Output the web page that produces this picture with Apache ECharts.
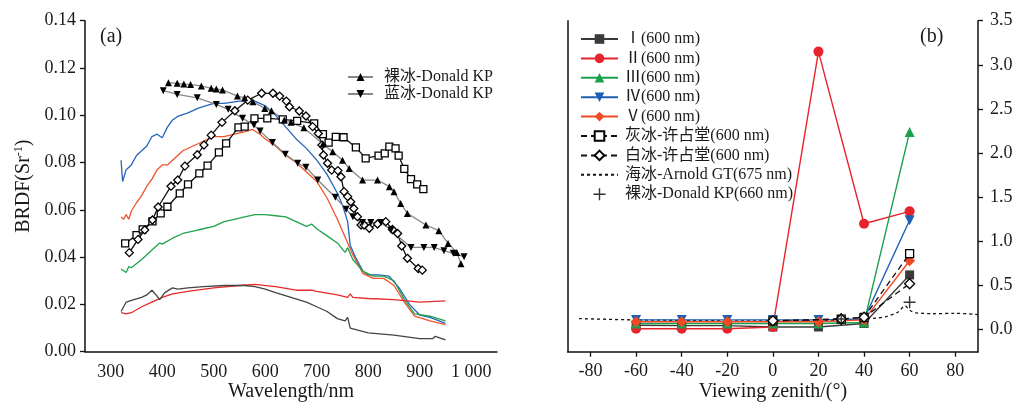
<!DOCTYPE html>
<html><head><meta charset="utf-8">
<script src="https://cdn.jsdelivr.net/npm/echarts@6/dist/echarts.min.js"></script>
<style>html,body{margin:0;padding:0;background:#fff}#c{width:1019px;height:405px}</style>
</head><body><div id="c"></div>
<script>
// ---------- Panel (a): BRDF spectra ----------
var wlTicks = [300, 400, 500, 600, 700, 800, 900, 1000];
var yTicksA = [0, 0.02, 0.04, 0.06, 0.08, 0.10, 0.12, 0.14];

var blueLine = [[320,0.081],[323,0.072],[330,0.077],[340,0.079],[350,0.083],[360,0.085],[370,0.087],[380,0.091],[390,0.092],[400,0.0905],[410,0.095],[420,0.098],[430,0.0995],[450,0.101],[470,0.103],[500,0.105],[520,0.105],[550,0.106],[580,0.106],[600,0.104],[620,0.100],[640,0.095],[660,0.090],[680,0.086],[700,0.081],[720,0.075],[740,0.067],[750,0.062],[760,0.055],[765,0.045],[775,0.040],[790,0.034],[800,0.0325],[820,0.0325],[840,0.032],[860,0.027],[880,0.020],[900,0.0155],[920,0.0145],[950,0.012]];
var orangeLine = [[320,0.057],[325,0.056],[330,0.058],[335,0.056],[340,0.0595],[350,0.063],[360,0.066],[370,0.070],[380,0.073],[390,0.077],[400,0.079],[410,0.079],[420,0.081],[440,0.085],[460,0.087],[480,0.089],[500,0.091],[520,0.091],[540,0.092],[560,0.093],[575,0.094],[590,0.092],[600,0.090],[620,0.087],[640,0.083],[660,0.080],[680,0.076],[700,0.072],[720,0.065],[740,0.056],[760,0.046],[770,0.041],[790,0.033],[810,0.031],[830,0.031],[850,0.028],[870,0.021],[890,0.015],[920,0.013],[950,0.0115]];
var greenLine = [[320,0.035],[330,0.0335],[335,0.036],[340,0.0355],[360,0.039],[380,0.043],[395,0.046],[400,0.0455],[420,0.048],[440,0.050],[460,0.051],[480,0.052],[500,0.053],[520,0.055],[540,0.056],[560,0.057],[580,0.058],[600,0.058],[620,0.0575],[640,0.057],[660,0.055],[680,0.053],[690,0.054],[700,0.052],[720,0.049],[740,0.046],[755,0.042],[760,0.044],[770,0.039],[790,0.034],[810,0.032],[830,0.032],[850,0.030],[870,0.022],[890,0.016],[920,0.015],[950,0.013]];
var redLine = [[320,0.0165],[330,0.016],[340,0.0165],[360,0.019],[380,0.021],[400,0.023],[420,0.0245],[450,0.0255],[500,0.027],[550,0.028],[580,0.0285],[620,0.0275],[660,0.026],[690,0.026],[700,0.0255],[740,0.024],[760,0.023],[765,0.0245],[770,0.023],[800,0.0225],[850,0.022],[900,0.021],[950,0.0215]];
var grayLine = [[320,0.017],[325,0.019],[330,0.021],[345,0.022],[360,0.023],[370,0.024],[380,0.026],[390,0.0235],[395,0.022],[405,0.025],[420,0.027],[430,0.0265],[450,0.027],[480,0.0275],[520,0.028],[560,0.028],[580,0.0275],[600,0.0265],[620,0.025],[650,0.023],[680,0.021],[700,0.019],[720,0.017],[740,0.014],[755,0.013],[760,0.0145],[765,0.010],[800,0.008],[850,0.007],[900,0.0055],[925,0.0055],[930,0.0065],[950,0.005]];
var openSquareA = [[328,0.0458],[350,0.0493],[362,0.0517],[381,0.0551],[397,0.0585],[410,0.0613],[434,0.067],[450,0.0708],[472,0.0754],[488,0.0787],[510,0.0843],[524,0.0881],[548,0.0949],[560,0.0952],[579,0.0987],[604,0.0987],[634,0.0983],[662,0.0976],[695,0.0966],[712,0.092],[723,0.0884],[737,0.0909],[752,0.0907],[776,0.0864],[795,0.0818],[820,0.0829],[832,0.0839],[841,0.0867],[853,0.086],[859,0.0829],[870,0.0773],[883,0.073],[895,0.0708],[907,0.0688]];
var openDiamondA = [[336,0.0419],[353,0.0475],[366,0.0515],[381,0.0557],[392,0.0612],[417,0.070],[430,0.0726],[444,0.0785],[468,0.0833],[481,0.0874],[495,0.0916],[516,0.097],[541,0.1019],[566,0.1064],[593,0.1093],[615,0.1093],[628,0.1081],[641,0.106],[647,0.1036],[666,0.1018],[679,0.0997],[692,0.0952],[703,0.0923],[710,0.0874],[713,0.0832],[721,0.0797],[729,0.0768],[741,0.0766],[747,0.074],[753,0.0677],[760,0.0656],[766,0.0634],[772,0.0606],[779,0.0571],[786,0.0536],[792,0.0536],[802,0.0522],[818,0.054],[834,0.055],[847,0.0517],[857,0.050],[865,0.0447],[876,0.0395],[897,0.0352],[905,0.0345]];
var bareIceKP = [[412,0.1138],[429,0.1135],[442,0.1132],[455,0.113],[476,0.1124],[495,0.1114],[505,0.1111],[517,0.1107],[546,0.1081],[560,0.1074],[576,0.1057],[599,0.1029],[612,0.1019],[637,0.098],[650,0.097],[675,0.0947],[712,0.0878],[731,0.0846],[750,0.081],[763,0.0775],[789,0.0726],[818,0.0726],[841,0.0698],[850,0.0677],[863,0.0627],[876,0.0585],[912,0.0536],[937,0.0512],[955,0.0458],[972,0.042],[980,0.0372]];
var blueIceKP = [[402,0.1104],[429,0.1088],[468,0.1074],[505,0.1046],[528,0.1025],[556,0.0987],[578,0.0959],[590,0.0933],[614,0.0885],[639,0.0835],[663,0.0797],[679,0.078],[702,0.0726],[736,0.0653],[757,0.0603],[770,0.0571],[789,0.0546],[805,0.0546],[825,0.0546],[844,0.0515],[883,0.0441],[908,0.0441],[928,0.0441],[947,0.0427],[965,0.0416],[986,0.0402]];

// ---------- Panel (b): angular BRDF ----------
var zenithTicks = [-80, -60, -40, -20, 0, 20, 40, 60, 80];
var yTicksB = [0, 0.5, 1.0, 1.5, 2.0, 2.5, 3.0, 3.5];
var zenith = [-60, -40, -20, 0, 20, 40, 60];
var site1 = [0.05, 0.045, 0.045, 0.03, 0.03, 0.07, 0.62];
var site2 = [0.01, 0.01, 0.01, 0.03, 3.15, 1.2, 1.34];
var site3 = [0.07, 0.07, 0.07, 0.07, 0.07, 0.08, 2.24];
var site4 = [0.11, 0.11, 0.11, 0.11, 0.11, 0.12, 1.24];
var site5 = [0.09, 0.09, 0.09, 0.09, 0.09, 0.11, 0.78];
var xuZenith = [0, 30, 40, 60];
var greyIceXu = [0.1, 0.12, 0.14, 0.86];
var whiteIceXu = [0.1, 0.12, 0.14, 0.52];
var seaIceZenith = [-85, -60, -40, -20, 0, 20, 30, 40, 45, 50, 55, 58, 60, 63, 66, 70, 80, 90];
var seaIceArnold = [0.125, 0.11, 0.105, 0.1, 0.1, 0.1, 0.105, 0.12, 0.13, 0.15, 0.2, 0.27, 0.22, 0.19, 0.185, 0.18, 0.185, 0.17];
var bareIceZenith = [30, 60];
var bareIce660 = [0.12, 0.31];

function zip(xs, ys) { return xs.map(function (x, i) { return [x, ys[i]]; }); }

var FONT = "'Liberation Serif','Noto Sans CJK SC',serif";
var TXT = '#1a1a1a';
var plusPath = 'path://M-0.7,-6h1.4v12h-1.4zM-6,-0.7h12v1.4h-12z';

var chart = echarts.init(document.getElementById('c'));

function thinLine(name, data, color, w) {
  return { name: name, type: 'line', xAxisIndex: 0, yAxisIndex: 0, data: data, symbol: 'none',
    lineStyle: { color: color, width: w || 1.3 }, itemStyle: { color: color }, silent: true, z: 2, animation: false };
}
function markLine(name, data, sym, size, fill, lineColor, xi, yi, dash, z) {
  return { name: name, type: 'line', xAxisIndex: xi, yAxisIndex: yi, data: data,
    symbol: sym, symbolSize: size, showSymbol: true,
    lineStyle: { color: lineColor, width: 1.3, type: dash || 'solid' },
    itemStyle: { color: fill, borderColor: '#000', borderWidth: fill === '#fff' ? 1.3 : 0 },
    z: z || 3, animation: false };
}
function colLine(name, data, sym, size, color) {
  return { name: name, type: 'line', xAxisIndex: 1, yAxisIndex: 1, data: data,
    symbol: sym, symbolSize: size, showSymbol: true,
    lineStyle: { color: color, width: 1.4 }, itemStyle: { color: color }, z: 4, animation: false };
}

var axisLbl = { fontFamily: FONT, fontSize: 18, color: TXT };
function axisLn() { return { show: true, onZero: false, lineStyle: { color: '#111', width: 1.5 } }; }

var option = {
  backgroundColor: '#fff',
  animation: false,
  textStyle: { fontFamily: FONT },
  grid: [
    { left: 85, top: 20.7, width: 412, height: 331, containLabel: false, outerBoundsMode: 'none' },
    { left: 567.7, top: 20.7, width: 410.3, height: 331, containLabel: false, outerBoundsMode: 'none' }
  ],
  xAxis: [
    { type: 'value', gridIndex: 0, min: 250, max: 1050, position: 'bottom',
      axisLine: axisLn(), axisTick: { show: false }, splitLine: { show: false },
      axisLabel: Object.assign({ margin: 12, customValues: wlTicks,
        formatter: function (v) { return v === 1000 ? '1 000' : String(v); } }, axisLbl),
      name: 'Wavelength/nm', nameLocation: 'middle', nameGap: 30, nameMoveOverlap: false,
      nameTextStyle: { fontFamily: FONT, fontSize: 20, color: TXT } },
    { type: 'value', gridIndex: 1, min: -90, max: 90, position: 'bottom',
      axisLine: axisLn(), axisTick: { show: true, length: 5, customValues: zenithTicks, lineStyle: { color: '#111', width: 1.3 } },
      splitLine: { show: false },
      axisLabel: Object.assign({ margin: 11, customValues: zenithTicks }, axisLbl),
      name: 'Viewing zenith/(°)', nameLocation: 'middle', nameGap: 30, nameMoveOverlap: false,
      nameTextStyle: { fontFamily: FONT, fontSize: 20, color: TXT } }
  ],
  yAxis: [
    { type: 'value', gridIndex: 0, min: 0, max: 0.14, interval: 0.02, position: 'left',
      axisLine: axisLn(), axisTick: { show: true, length: 5, lineStyle: { color: '#111', width: 1.3 } },
      splitLine: { show: false },
      axisLabel: Object.assign({ margin: 9, formatter: function (v) { return v.toFixed(2); } }, axisLbl),
      name: '{a|BRDF(Sr}{b|-1}{a|)}', nameLocation: 'middle', nameGap: 50, nameRotate: 90, nameMoveOverlap: false,
      nameTextStyle: { fontFamily: FONT, fontSize: 20, color: TXT,
        rich: { a: { fontFamily: FONT, fontSize: 20, color: TXT, lineHeight: 22 },
                b: { fontFamily: FONT, fontSize: 12, color: TXT, lineHeight: 22, verticalAlign: 'top', padding: [0, 0, 10, 0] } } } },
    { type: 'value', gridIndex: 1, min: -0.25, max: 3.5, position: 'right',
      axisLine: axisLn(), axisTick: { show: true, length: 5, customValues: yTicksB, lineStyle: { color: '#111', width: 1.3 } },
      splitLine: { show: false },
      axisLabel: Object.assign({ margin: 12, customValues: yTicksB, formatter: function (v) { return v.toFixed(1); } }, axisLbl) },
    { type: 'value', gridIndex: 1, min: -0.25, max: 3.5, position: 'left',
      axisLine: axisLn(), axisTick: { show: false }, axisLabel: { show: false }, splitLine: { show: false } }
  ],
  legend: [
    { orient: 'vertical', left: 342, top: 64, itemWidth: 25, itemHeight: 10, itemGap: 1,
      data: ['裸冰-Donald KP', '蓝冰-Donald KP'],
      textStyle: { fontFamily: FONT, fontSize: 16, color: TXT, lineHeight: 16, padding: [0, 0, 0, 6] } },
    { orient: 'vertical', left: 575, top: 26, itemWidth: 37, itemHeight: 12, itemGap: 3.4,
      data: ['Ⅰ(600 nm)', 'Ⅱ(600 nm)', 'Ⅲ(600 nm)', 'Ⅳ(600 nm)', 'Ⅴ(600 nm)',
             '灰冰-许占堂(600 nm)', '白冰-许占堂(600 nm)',
             { name: '海冰-Arnold GT(675 nm)', itemStyle: { opacity: 0 } }, '裸冰-Donald KP(660 nm)'],
      textStyle: { fontFamily: FONT, fontSize: 16, color: TXT, lineHeight: 16, padding: [0, 0, 0, 2] } }
  ],
  graphic: [
    { type: 'text', left: 100, top: 27, style: { text: '(a)', font: '20px ' + FONT, fill: TXT } },
    { type: 'text', left: 920, top: 27, style: { text: '(b)', font: '20px ' + FONT, fill: TXT } }
  ],
  series: [
    thinLine('a-blue', blueLine, '#2565b8'),
    thinLine('a-orange', orangeLine, '#f0522c'),
    thinLine('a-green', greenLine, '#22a24a'),
    thinLine('a-red', redLine, '#e82a2a'),
    thinLine('a-gray', grayLine, '#444'),
    markLine('a-square', openSquareA, 'rect', 7, '#fff', '#111', 0, 0),
    markLine('a-diamond', openDiamondA, 'diamond', 8, '#fff', '#111', 0, 0),
    markLine('裸冰-Donald KP', bareIceKP, 'triangle', 7, '#000', '#888', 0, 0),
    markLine('蓝冰-Donald KP', blueIceKP, 'path://M0,10L-6,0L6,0Z', 7, '#000', '#888', 0, 0),

    { name: '海冰-Arnold GT(675 nm)', type: 'line', xAxisIndex: 1, yAxisIndex: 1,
      data: zip(seaIceZenith, seaIceArnold), symbol: 'none', smooth: 0.3,
      lineStyle: { color: '#111', width: 1.3, type: [3, 3] }, itemStyle: { color: '#111' }, z: 3 },
    colLine('Ⅰ(600 nm)', zip(zenith, site1), 'rect', 9, '#3a3a3a'),
    colLine('Ⅱ(600 nm)', zip(zenith, site2), 'circle', 10, '#e8232b'),
    colLine('Ⅲ(600 nm)', zip(zenith, site3), 'triangle', 10, '#1aa04c'),
    colLine('Ⅳ(600 nm)', zip(zenith, site4), 'path://M0,10L-6,0L6,0Z', 10, '#1d5fb4'),
    colLine('Ⅴ(600 nm)', zip(zenith, site5), 'diamond', 11, '#f04a24'),
    markLine('灰冰-许占堂(600 nm)', zip(xuZenith, greyIceXu), 'rect', 8, '#fff', '#111', 1, 1, [6, 4], 5),
    markLine('白冰-许占堂(600 nm)', zip(xuZenith, whiteIceXu), 'diamond', 10, '#fff', '#111', 1, 1, [6, 4], 5),
    { name: '裸冰-Donald KP(660 nm)', type: 'scatter', xAxisIndex: 1, yAxisIndex: 1,
      data: zip(bareIceZenith, bareIce660), symbol: plusPath, symbolSize: 12,
      itemStyle: { color: '#000' }, z: 6 }
  ]
};
chart.setOption(option);
</script></body></html>
